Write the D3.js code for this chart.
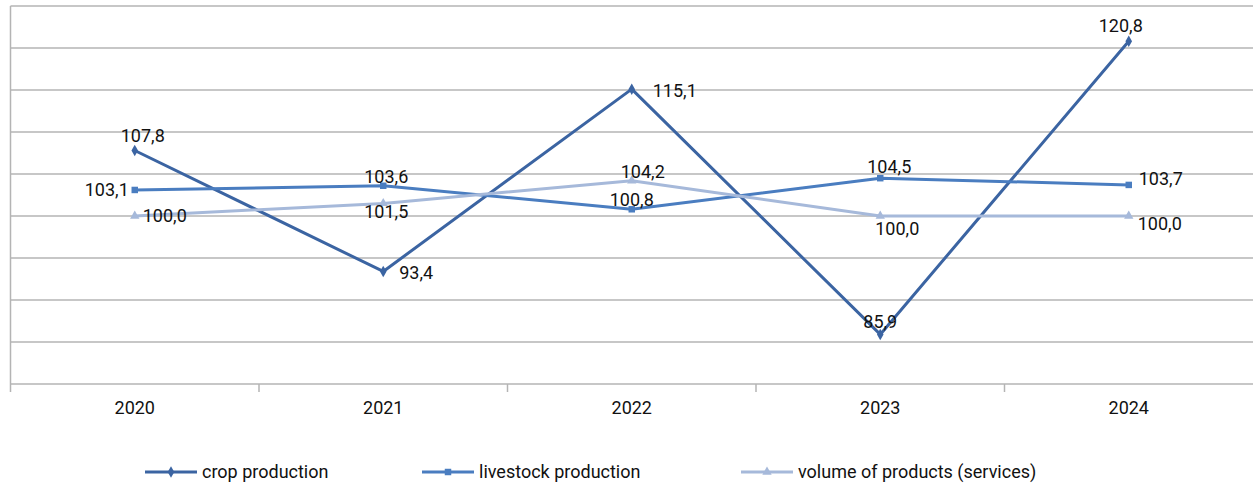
<!DOCTYPE html>
<html><head><meta charset="utf-8">
<script src="https://cdn.jsdelivr.net/npm/d3@7"></script>
<style>body{margin:0;background:#fff}svg{display:block}text{font-family:Roboto,"Noto Sans",sans-serif;fill:#111}</style>
</head><body><svg id="c" width="1253" height="485"></svg>
<script>
const years = ["2020","2021","2022","2023","2024"];
const crop = [107.8, 93.4, 115.1, 85.9, 120.8];
const livestock = [103.1, 103.6, 100.8, 104.5, 103.7];
const volume = [100.0, 101.5, 104.2, 100.0, 100.0];
const seriesNames = ["crop production","livestock production","volume of products (services)"];
const yTicks = [80,85,90,95,100,105,110,115,120,125];

// label offsets (layout only)
const labelPos = [
  [[8,-8,"middle"],[16,8,"start"],[21,8,"start"],[0,-6,"middle"],[-8,-9,"middle"]],
  [[-6,6,"end"],[3,-3,"middle"],[0,-3,"middle"],[9,-5,"middle"],[10,0,"start"]],
  [[8,6,"start"],[3,15,"middle"],[11,-3,"middle"],[17,19,"middle"],[9,14,"start"]]
];

const svg = d3.select("#c");
const x = d3.scaleBand().domain(years).range([10.5,1253]).padding(0);
const y = d3.scaleLinear().domain([80,125]).range([384,6]);
const cx = d => x(d) + x.bandwidth()/2;

// gridlines
svg.append("g").selectAll("line").data(yTicks.slice(1)).join("line")
  .attr("x1",10.5).attr("x2",1253).attr("y1",d=>y(d)).attr("y2",d=>y(d))
  .attr("stroke","#b4b4b4").attr("stroke-width",1.5);
// axes
svg.append("line").attr("x1",10.5).attr("x2",1253).attr("y1",y(80)).attr("y2",y(80)).attr("stroke","#b4b4b4").attr("stroke-width",1.5);
svg.append("line").attr("x1",10.5).attr("x2",10.5).attr("y1",y(125)).attr("y2",y(80)+8).attr("stroke","#b4b4b4").attr("stroke-width",1.5);
svg.append("g").selectAll("line").data(years.slice(1)).join("line")
  .attr("x1",d=>x(d)).attr("x2",d=>x(d)).attr("y1",y(80)).attr("y2",y(80)+8)
  .attr("stroke","#b4b4b4").attr("stroke-width",1.5);
svg.append("g").selectAll("text").data(years).join("text")
  .attr("x",d=>cx(d)).attr("y",414).attr("text-anchor","middle").attr("font-size",18).text(d=>d);

const colors = ["#3b64a2","#4a7dc0","#a6b9da"];
const data = [crop, livestock, volume];
const shapes = [d3.symbolDiamond, d3.symbolSquare, d3.symbolTriangle];
const sizes = [38, 42, 38];

data.forEach((vals,i)=>{
  const line = d3.line().x((d,j)=>cx(years[j])).y(d=>y(d));
  svg.append("path").datum(vals).attr("d",line).attr("fill","none")
    .attr("stroke",colors[i]).attr("stroke-width",3).attr("stroke-linejoin","round");
});
data.forEach((vals,i)=>{
  svg.append("g").selectAll("path").data(vals).join("path")
    .attr("transform",(d,j)=>`translate(${cx(years[j])},${y(d)})`)
    .attr("d",d3.symbol().type(shapes[i]).size(sizes[i])).attr("fill",colors[i]);
});
data.forEach((vals,i)=>{
  svg.append("g").selectAll("text").data(vals).join("text")
    .attr("x",(d,j)=>cx(years[j])+labelPos[i][j][0])
    .attr("y",(d,j)=>y(d)+labelPos[i][j][1])
    .attr("text-anchor",(d,j)=>labelPos[i][j][2])
    .attr("font-size",18)
    .text(d=>d.toFixed(1).replace(".",","));
});

// legend
const legX = [145, 422, 741];
seriesNames.forEach((n,i)=>{
  const g = svg.append("g").attr("transform",`translate(${legX[i]},472)`);
  g.append("line").attr("x1",0).attr("x2",52).attr("stroke",colors[i]).attr("stroke-width",3);
  g.append("path").attr("transform","translate(26,0)").attr("d",d3.symbol().type(shapes[i]).size(sizes[i])).attr("fill",colors[i]);
  g.append("text").attr("x",57).attr("y",6).attr("font-size",18).text(n);
});
</script></body></html>
